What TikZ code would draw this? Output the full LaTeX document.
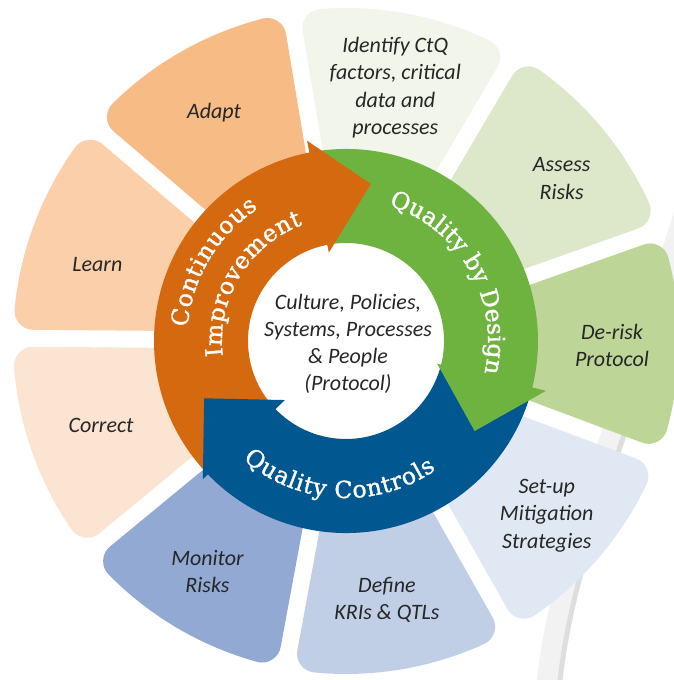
\documentclass[tikz,border=0pt]{standalone}
\usepackage{fontspec}
\setmainfont{Carlito}
\newfontfamily\ringfont[FakeBold=1.3]{DejaVu Serif}
\usepackage{tikz}
\usetikzlibrary{calc,decorations.text}

\definecolor{ciorange}{RGB}{212,105,15}
\definecolor{cigreen}{RGB}{110,178,64}
\definecolor{ciblue}{RGB}{1,87,143}
\definecolor{adaptcol}{RGB}{247,187,134}
\definecolor{learncol}{RGB}{250,207,170}
\definecolor{correctcol}{RGB}{252,228,210}
\definecolor{identcol}{RGB}{241,245,234}
\definecolor{assesscol}{RGB}{221,232,202}
\definecolor{deriskcol}{RGB}{190,213,152}
\definecolor{setupcol}{RGB}{224,232,243}
\definecolor{definecol}{RGB}{192,207,230}
\definecolor{monitorcol}{RGB}{145,169,211}
\definecolor{segink}{RGB}{38,38,38}
\definecolor{shadowgray}{RGB}{242,242,242}
\definecolor{shadowedge}{RGB}{222,222,222}

\tikzset{
  petal/.style={line width=38pt, line join=round},
  segtext/.style={align=center, text=segink, font=\fontsize{22}{27.5}\selectfont\itshape},
  coretext/.style={align=center, text=segink, font=\fontsize{22}{27}\selectfont\itshape},
  ringlabel/.style={decorate, decoration={text along path, text={|\color{white}|#1}, text align={fit to path}}},
}

% petal between angle #1 and #1+40, rounded by the thick stroke
\newcommand{\drawpetal}[2]{%
  \filldraw[petal, fill=#2, draw=#2] ($(C)+(#1:150)+(#1+90:27.5)$) -- ($(C)+(#1+5.02:314)$)
    arc[start angle=#1+5.02, end angle=#1+34.98, radius=314]
    -- ($(C)+(#1+40:150)+(#1-50:27.5)$) -- cycle;}

\begin{document}
\begin{tikzpicture}[x=1pt,y=1pt]
  \useasboundingbox (0,0) rectangle (674,680);
  \clip (0,0) rectangle (674,680);
  \coordinate (C) at (346,339);

  % grey band behind the right side
  \draw[line width=24pt, shadowgray] (690,480) .. controls (620,250) and (560,120) .. (548,-10);
  \draw[line width=5pt, shadowedge] (701,480) .. controls (631,250) and (571,120) .. (559,-10);

  % outer petals
  \foreach \a/\col in {99.5/adaptcol, 59.5/identcol, 19.5/assesscol, -20.5/deriskcol,
                       -60.5/setupcol, -100.5/definecol, -140.5/monitorcol,
                       179.5/correctcol, 139.5/learncol}
    {\drawpetal{\a}{\col}}

  % arrow bodies
  \fill[ciorange] ($(C)+(223:192)$) arc[start angle=223, end angle=99.5, radius=192]
    -- ($(C)+(99.5:98)$) arc[start angle=99.5, end angle=223, radius=98] -- cycle;
  \fill[cigreen] ($(C)+(100:192)$) arc[start angle=100, end angle=-15.5, radius=192]
    -- ($(C)+(-15.5:98)$) arc[start angle=-15.5, end angle=100, radius=98] -- cycle;
  \fill[ciblue] ($(C)+(-15:192)$) arc[start angle=-15, end angle=-137.5, radius=192]
    -- ($(C)+(-137.5:98)$) arc[start angle=-137.5, end angle=-15, radius=98] -- cycle;

  % arrow heads
  \fill[ciorange] ($(C)+(101:204)$) -- ($(C)+(81:159)$) -- ($(C)+(101:90)$) -- cycle;
  \fill[cigreen] ($(C)+(-14:206)$) -- ($(C)+(-35:157)$) -- ($(C)+(-14:94)$) -- cycle;
  \fill[ciblue] ($(C)+(224:199)$) -- ($(C)+(202:153)$) -- ($(C)+(224:85)$) -- cycle;

  % ring labels
  \begin{scope}
    \ringfont\fontsize{23.5}{24}\selectfont
    \path[ringlabel=Continuous] ($(C)+(175:159)$) arc[start angle=175, end angle=123.5, radius=159];
    \path[ringlabel=Improvement] ($(C)+(187:124)$) arc[start angle=187, end angle=110.5, radius=124];
    \path[ringlabel={Quality by Design}] ($(C)+(72.5:142)$) arc[start angle=72.5, end angle=-13, radius=142];
    \path[ringlabel={Quality Controls}] ($(C)+(-131:157)$) arc[start angle=-131, end angle=-55, radius=157];
  \end{scope}

  % centre
  \node[coretext] (core) at ($(C)+(2,-3)$) {Culture, Policies,\\Systems, Processes\\\& People\\(Protocol)};

  % petal labels
  \node[segtext] (adapt) at ($(C)+(120:264)$) {Adapt};
  \node[segtext] (identify) at ($(C)+(79:258)$) {Identify CtQ\\factors, critical\\data and\\processes};
  \node[segtext] (assess) at ($(C)+(37:270)$) {Assess\\Risks};
  \node[segtext] (derisk) at ($(C)+(-1:266)$) {De-risk\\Protocol};
  \node[segtext] (setup) at ($(C)+(-41:266)$) {Set-up\\Mitigation\\Strategies};
  \node[segtext] (define) at ($(C)+(-81:262)$) {Define\\KRIs \& QTLs};
  \node[segtext] (monitor) at ($(C)+(-121:269)$) {Monitor\\Risks};
  \node[segtext] (correct) at ($(C)+(-161:259)$) {Correct};
  \node[segtext] (learn) at ($(C)+(163:260)$) {Learn};
\end{tikzpicture}
\end{document}
